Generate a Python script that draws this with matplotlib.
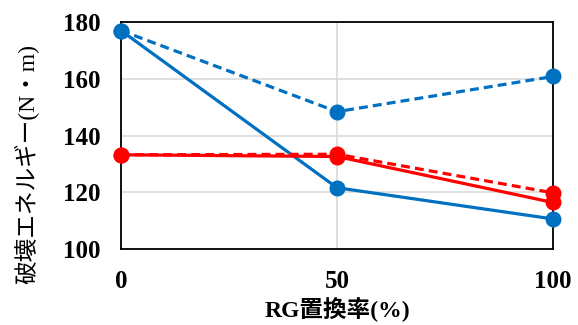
import matplotlib.pyplot as plt

# RG置換率ごとの破壊エネルギー
rg_labels = ["0", "50", "100"]
blue_solid = [177, 121.6, 110.6]
blue_dashed = [177, 148.4, 160.8]
red_solid = [133.2, 132.6, 116.4]
red_dashed = [133.2, 133.4, 119.8]

fonts = ["Liberation Serif", "Noto Sans CJK JP", "DejaVu Sans"]
plt.rcParams["font.family"] = fonts

fig = plt.figure(figsize=(5.78, 3.25), dpi=100)
ax = fig.add_axes([0.2093, 0.2338, 0.7474, 0.6985])

x = range(len(rg_labels))
blue = "#0070C0"
red = "#FF0000"
style = dict(lw=2.3, marker="o", ms=10.5, clip_on=False)
dash = (0, (2.8, 1.6))
ax.plot(x, blue_dashed, color=blue, ls=dash, zorder=3, **style)
ax.plot(x, blue_solid, color=blue, zorder=3, **style)
ax.plot(x, red_dashed, color=red, ls=dash, zorder=4, **style)
ax.plot(x, red_solid, color=red, zorder=4, **style)

ax.set_xlim(0, 2)
ax.set_ylim(100, 180)
ax.set_yticks([100, 120, 140, 160, 180])
ax.set_xticks(list(x))
ax.set_xticklabels(rg_labels)
ax.grid(True, color="#D9D9D9", lw=1.2)
ax.set_axisbelow(True)
for s in ax.spines.values():
    s.set_color("black")
    s.set_linewidth(1.3)
    s.set_zorder(2)
ax.tick_params(length=0, labelsize=18)
ax.tick_params(axis="y", pad=15)
ax.tick_params(axis="x", pad=15)
for lab in ax.get_xticklabels() + ax.get_yticklabels():
    lab.set_fontweight("bold")

ax.set_xlabel("RG置換率(%)", fontsize=17, fontweight="bold", labelpad=3)
fig.text(0.047, 0.495, "破壊エネルギー(N・m)", fontsize=17, rotation=90,
         ha="center", va="center")

fig.savefig("out.png", dpi=100)
